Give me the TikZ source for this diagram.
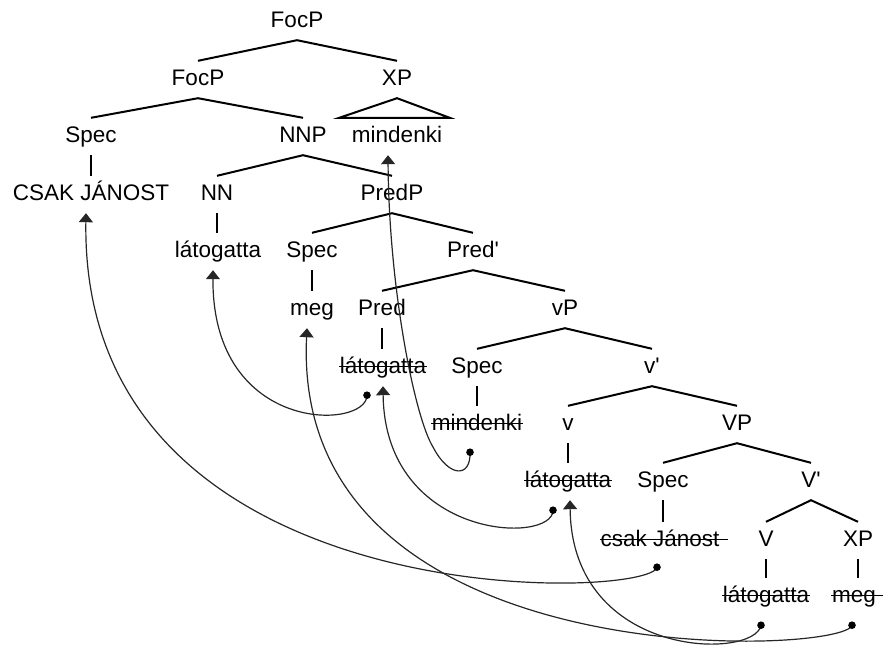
\documentclass[tikz,border=0pt]{standalone}
\usepackage{fontspec}
\setmainfont{Liberation Sans}
\usetikzlibrary{arrows.meta}
\begin{document}
\begin{tikzpicture}[x=1pt,y=-1pt,
  tn/.style={inner xsep=0.5pt, inner ysep=8pt, text height=16pt, text depth=5pt,
    anchor=base, font=\fontsize{22.5}{27}\selectfont},
  branch/.style={line width=2pt},
  strike/.style={line width=1.3pt},
  mv/.style={line width=1.2pt, draw=black!85, -{Triangle[width=14pt,length=9pt]}},
  dotfill/.style={fill=black}]
\useasboundingbox (0,0) rectangle (883,651);

% tree labels (placed at their baselines)
\node[tn] (top) at (297,27) {FocP};
\node[tn] (focp) at (198,85) {FocP};
\node[tn] (xp) at (397,85) {XP};
\node[tn] (spec1) at (91,142) {Spec};
\node[tn] (nnp) at (303,142) {NNP};
\node[tn] (mind1) at (397,142) {mindenki};
\node[tn] (csak1) at (91,200) {CSAK JÁNOST};
\node[tn] (nn) at (217,200) {NN};
\node[tn] (predp) at (392,200) {PredP};
\node[tn] (lat1) at (218,257) {látogatta};
\node[tn] (spec2) at (312,257) {Spec};
\node[tn] (predbar) at (473,257) {Pred\textquotesingle};
\node[tn] (meg1) at (312,315) {meg};
\node[tn] (pred) at (382,315) {Pred};
\node[tn] (vp) at (565,315) {vP};
\node[tn] (lat2) at (383,373) {látogatta};
\node[tn] (spec3) at (477,373) {Spec};
\node[tn] (vbar) at (652,373) {v\textquotesingle};
\node[tn] (mind2) at (477,430) {mindenki};
\node[tn] (vsmall) at (568,430) {v};
\node[tn] (vpbig) at (737,430) {VP};
\node[tn] (lat3) at (568,487) {látogatta};
\node[tn] (spec4) at (663,487) {Spec};
\node[tn] (Vbar) at (811,487) {V\textquotesingle};
\node[tn] (csak2) at (660,546) {csak Jánost};
\node[tn] (Vhead) at (766,546) {V};
\node[tn] (xp2) at (858,546) {XP};
\node[tn] (lat4) at (766,602) {látogatta};
\node[tn] (meg2) at (854,602) {meg};

% binary branches
\foreach \p/\a/\b in {top/focp/xp, focp/spec1/nnp, nnp/nn/predp, predp/spec2/predbar,
  predbar/pred/vp, vp/spec3/vbar, vbar/vsmall/vpbig, vpbig/spec4/Vbar, Vbar/Vhead/xp2}
  \draw[branch] (\a.north) -- (\p.south) -- (\b.north);

% unary branches
\foreach \p/\c in {spec1/csak1, nn/lat1, spec2/meg1, pred/lat2, spec3/mind2,
  vsmall/lat3, spec4/csak2, Vhead/lat4, xp2/meg2}
  \draw[branch] (\p.south) -- (\p.south |- \c.north);

% phrase triangle
\draw[branch, line join=miter] (xp.south) -- ([xshift=-12pt]mind1.north west)
  -- ([xshift=7pt]mind1.north east) -- cycle;

% struck-out copies
\foreach \n in {lat2, mind2, lat3, lat4}
  \draw[strike] ([yshift=6.5pt]\n.base west) -- ([yshift=6.5pt]\n.base east);
\foreach \n in {csak2, meg2}
  \draw[strike] ([yshift=6.5pt]\n.base west) -- ([yshift=6.5pt,xshift=8pt]\n.base east);

% movement sources and targets
\coordinate (d1) at ([xshift=-7pt,yshift=-9pt]mind2.south);
\coordinate (d2) at ([xshift=-16pt,yshift=-9pt]lat2.south);
\coordinate (d3) at ([xshift=-15pt,yshift=-10pt]lat3.south);
\coordinate (d4) at ([xshift=-3pt,yshift=-8pt]csak2.south);
\coordinate (d5) at ([xshift=-2pt,yshift=-10pt]meg2.south);
\coordinate (d6) at ([xshift=-5pt,yshift=-10pt]lat4.south);
\coordinate (t1) at ([xshift=-9pt]mind1.south);
\coordinate (t2) at ([xshift=-5pt]lat1.south);
\coordinate (t3) at (lat2.south);
\coordinate (t4) at ([xshift=-5pt]csak1.south);
\coordinate (t5) at ([xshift=-5pt]meg1.south);
\coordinate (t6) at ([xshift=2pt]lat3.south);

% movement arrows
\draw[mv] (d1) .. controls (471,478) and (449,478) .. (433,447)
  .. controls (415,418) and (389,290) .. (t1);
\draw[mv] (d2) .. controls (367,430) and (212,435) .. (t2);
\draw[mv] (d3) .. controls (553,545) and (385,540) .. (t3);
\draw[mv] (d4) .. controls (650,600) and (80,620) .. (t4);
\draw[mv] (d5) .. controls (845,655) and (290,680) .. (t5);
\draw[mv] (d6) .. controls (755,660) and (572,660) .. (t6);

\foreach \d in {d1,d2,d3,d4,d5,d6}
  \fill[dotfill] (\d) circle (3.8pt);
\end{tikzpicture}
\end{document}
